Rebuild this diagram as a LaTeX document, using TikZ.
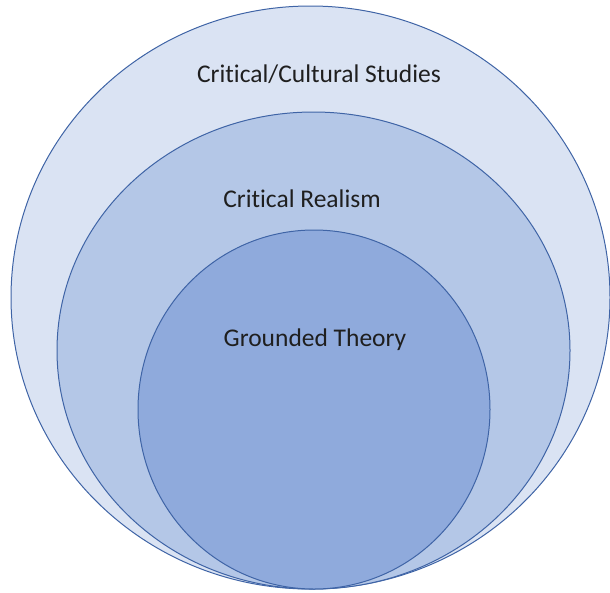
\documentclass[tikz,border=0pt]{standalone}
\usepackage{fontspec}
\setmainfont{Carlito}[Ligatures=NoCommon]
\usepackage{tikz}
\usetikzlibrary{positioning}
\usetikzlibrary{shapes}
\usepackage{xcolor}
\definecolor{ringline}{HTML}{3F64A6}
\definecolor{outerfill}{HTML}{DAE3F3}
\definecolor{midfill}{HTML}{B4C7E7}
\definecolor{innerfill}{HTML}{8FAADC}
\tikzset{
	every node/.style={outer sep=0pt},
	ring/.style={ellipse, draw=ringline, line width=1pt, inner sep=0pt},
	label/.style={anchor=base, text=black!88, font=\fontsize{25.5}{30}\selectfont}
}

\begin{document}
\begin{tikzpicture}[x=1pt,y=-1pt]
	\useasboundingbox (0,0) rectangle (610,592);
	% rings
	\node[ring, fill=outerfill, minimum width=599pt, minimum height=583pt] (cultural) at (310.5, 297.5) {};
	\node[ring, fill=midfill, minimum width=513pt, minimum height=477pt] (realism) at (313.5, 350.5) {};
	\node[ring, fill=innerfill, minimum width=352pt, minimum height=359pt] (grounded) at (314, 409.5) {};
	
	% texts
	\node[label] (culturaltext) at (319, 82) {Critical/Cultural Studies};
	\node[label] (realismtext) at (302, 207) {Critical Realism};
	\node[label] (groundedtext) at (315, 346) {Grounded Theory};
\end{tikzpicture}
\end{document}
